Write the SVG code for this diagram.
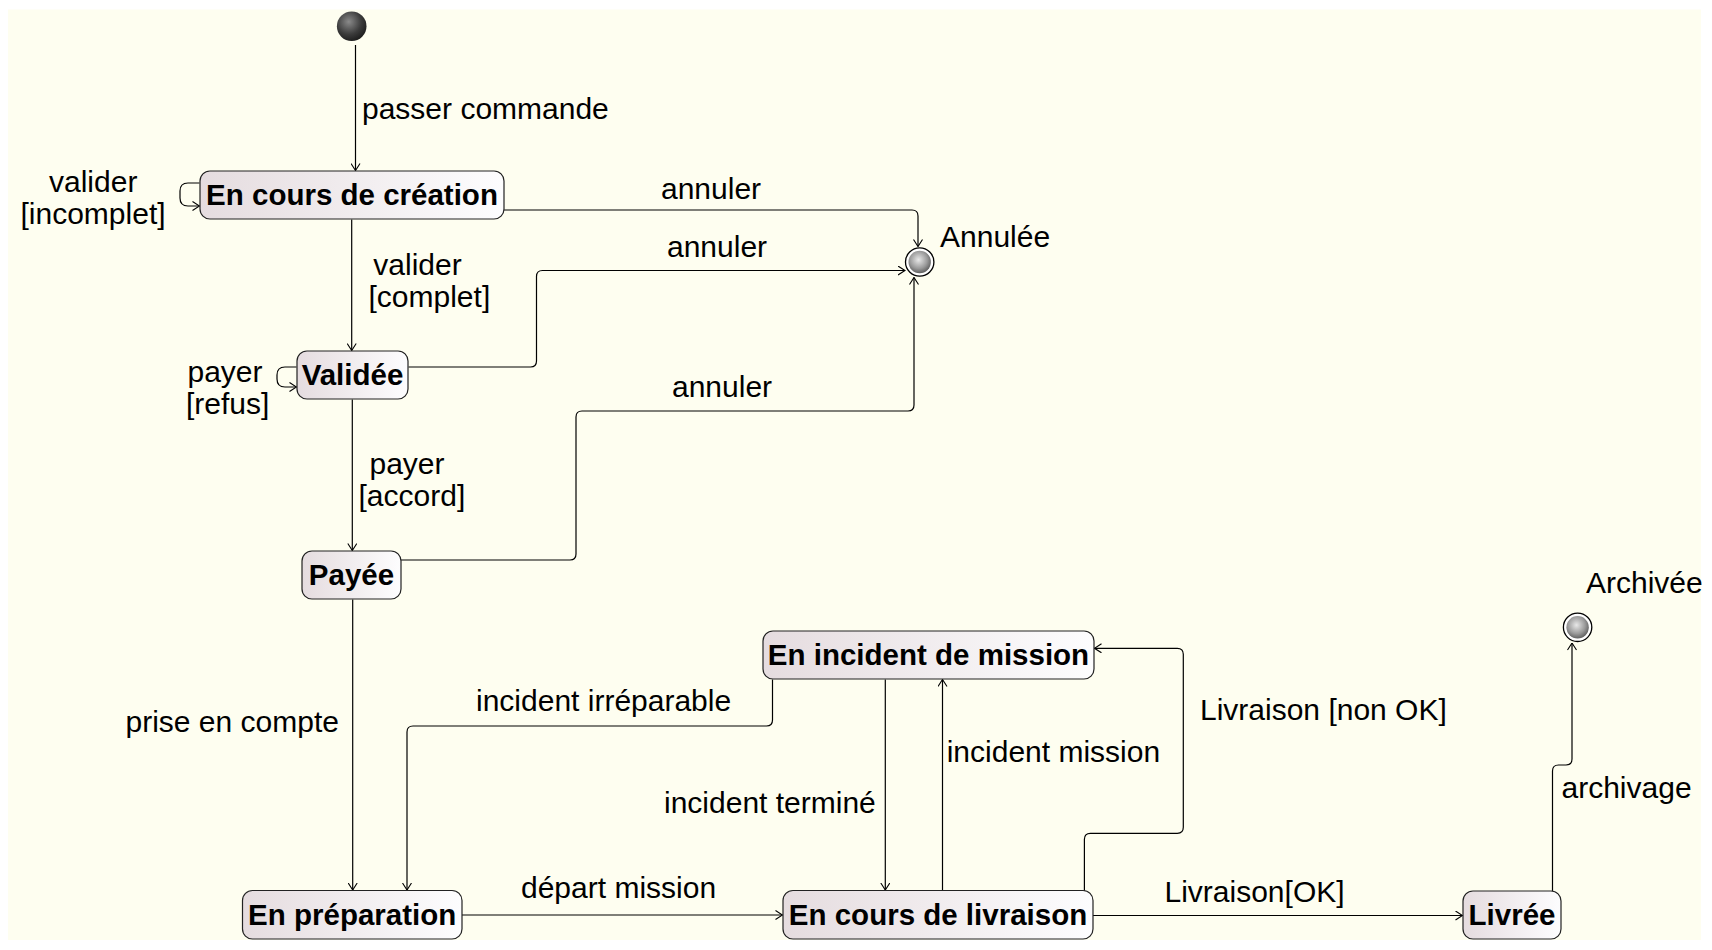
<svg xmlns="http://www.w3.org/2000/svg" width="1712" height="950" viewBox="0 0 1712 950">
<defs>
<style>
.lbl{font-family:"Liberation Sans",Arial,sans-serif;font-size:30px;fill:#000}
.st{font-family:"Liberation Sans",Arial,sans-serif;font-size:29.5px;font-weight:bold;fill:#000;text-anchor:middle}
.box{fill:url(#boxg);stroke:#222;stroke-width:1.2}
.c{fill:none;stroke:#000;stroke-width:1.2}
.a{marker-end:url(#arr)}
</style>
<linearGradient id="boxg" x1="0" y1="0" x2="1" y2="0">
<stop offset="0" stop-color="#e5dcdf"/>
<stop offset="1" stop-color="#fdfdfe"/>
</linearGradient>
<radialGradient id="initg" cx="0.4" cy="0.35" r="0.7">
<stop offset="0" stop-color="#8a8a8a"/>
<stop offset="0.6" stop-color="#3c3c3c"/>
<stop offset="1" stop-color="#1a1a1a"/>
</radialGradient>
<radialGradient id="fing" cx="0.45" cy="0.4" r="0.65">
<stop offset="0" stop-color="#e8e8e8"/>
<stop offset="0.6" stop-color="#9a9a9a"/>
<stop offset="1" stop-color="#555"/>
</radialGradient>
<marker id="arr" viewBox="0 0 8 10" refX="7.5" refY="5" markerWidth="8" markerHeight="10" markerUnits="userSpaceOnUse" orient="auto">
<path d="M0.5,0.5 L7.5,5 L0.5,9.5" fill="none" stroke="#000" stroke-width="1.1"/>
</marker>
</defs>

<rect x="0" y="0" width="1712" height="950" fill="#ffffff"/>
<rect x="8" y="9.5" width="1693" height="930.5" fill="#fefef0"/>

<g id="connectors">
<path class="c a" d="M355.5,45 V170.5"/>
<path class="c a" d="M199.5,183 H188 Q180,183 180,191 V198 Q180,206 188,206 H199.5"/>
<path class="c a" d="M351.7,219.5 V350.5"/>
<path class="c a" d="M504,210 H912 Q918,210 918,216 V246.5"/>
<path class="c a" d="M408.5,367 H530.5 Q536.5,367 536.5,361 V276.5 Q536.5,270.5 542.5,270.5 H905"/>
<path class="c a" d="M296.5,367 H285 Q277,367 277,375 V379 Q277,387 285,387 H296.5"/>
<path class="c a" d="M352.3,399.5 V550.5"/>
<path class="c a" d="M401,560 H570 Q576,560 576,554 V417 Q576,411 582,411 H908 Q914,411 914,405 V277.5"/>
<path class="c a" d="M352.7,599.5 V890"/>
<path class="c a" d="M462,915 H782.5"/>
<path class="c a" d="M772.5,679.5 V720 Q772.5,726 766.5,726 H413 Q407,726 407,732 V890"/>
<path class="c a" d="M885.3,679.5 V890"/>
<path class="c a" d="M942.5,890 V679.5"/>
<path class="c a" d="M1084.4,892 V839.3 Q1084.4,833.3 1090.4,833.3 H1177.3 Q1183.3,833.3 1183.3,827.3 V654.3 Q1183.3,648.3 1177.3,648.3 H1094.5"/>
<path class="c a" d="M1093,915.5 H1462.5"/>
<path class="c a" d="M1552.5,891 V771 Q1552.5,765 1558.5,765 H1566 Q1572,765 1572,759 V643"/>
</g>

<g id="labels">
<text class="lbl" x="362" y="119">passer commande</text>
<text class="lbl" x="49" y="191.5">valider</text>
<text class="lbl" x="20.5" y="223.5">[incomplet]</text>
<text class="lbl" x="373.3" y="275">valider</text>
<text class="lbl" x="368.5" y="307">[complet]</text>
<text class="lbl" x="661" y="199">annuler</text>
<text class="lbl" x="667" y="256.5">annuler</text>
<text class="lbl" x="672" y="396.5">annuler</text>
<text class="lbl" x="940" y="247.3">Annulée</text>
<text class="lbl" x="187.5" y="382">payer</text>
<text class="lbl" x="186" y="414">[refus]</text>
<text class="lbl" x="369.5" y="473.5">payer</text>
<text class="lbl" x="358.5" y="505.5">[accord]</text>
<text class="lbl" x="125.5" y="732">prise en compte</text>
<text class="lbl" x="476" y="710.7">incident irréparable</text>
<text class="lbl" x="664" y="812.7">incident terminé</text>
<text class="lbl" x="946.7" y="761.7">incident mission</text>
<text class="lbl" x="521" y="898.3">départ mission</text>
<text class="lbl" x="1200" y="720">Livraison [non OK]</text>
<text class="lbl" x="1164.5" y="901.7">Livraison[OK]</text>
<text class="lbl" x="1561.5" y="798">archivage</text>
<text class="lbl" x="1586" y="593">Archivée</text>
</g>

<g id="initial">
<circle cx="351.7" cy="26.2" r="14.8" fill="url(#initg)"/>
</g>

<g id="annulee">
<circle cx="919.7" cy="262" r="14.2" fill="#fff" stroke="#000" stroke-width="1.3"/>
<circle cx="919.7" cy="262" r="11.2" fill="url(#fing)"/>
</g>

<g id="archivee">
<circle cx="1577.6" cy="627.3" r="14.2" fill="#fff" stroke="#000" stroke-width="1.3"/>
<circle cx="1577.6" cy="627.3" r="11.2" fill="url(#fing)"/>
</g>

<g id="en-cours-creation">
<rect class="box" x="200" y="171" width="304" height="48" rx="10" ry="10"/>
<text class="st" x="352" y="205">En cours de création</text>
</g>

<g id="validee">
<rect class="box" x="297" y="351" width="111" height="48" rx="10" ry="10"/>
<text class="st" x="352.5" y="385">Validée</text>
</g>

<g id="payee">
<rect class="box" x="302" y="551" width="99" height="48" rx="10" ry="10"/>
<text class="st" x="351.5" y="585">Payée</text>
</g>

<g id="en-preparation">
<rect class="box" x="242.5" y="890.5" width="219.5" height="48.5" rx="10" ry="10"/>
<text class="st" x="352.2" y="924.5">En préparation</text>
</g>

<g id="en-incident">
<rect class="box" x="763" y="631" width="331" height="48" rx="10" ry="10"/>
<text class="st" x="928.5" y="665">En incident de mission</text>
</g>

<g id="en-cours-livraison">
<rect class="box" x="783" y="890.5" width="310" height="48.5" rx="10" ry="10"/>
<text class="st" x="938" y="924.5">En cours de livraison</text>
</g>

<g id="livree">
<rect class="box" x="1463" y="891" width="98" height="48" rx="10" ry="10"/>
<text class="st" x="1512" y="924.5">Livrée</text>
</g>
</svg>
